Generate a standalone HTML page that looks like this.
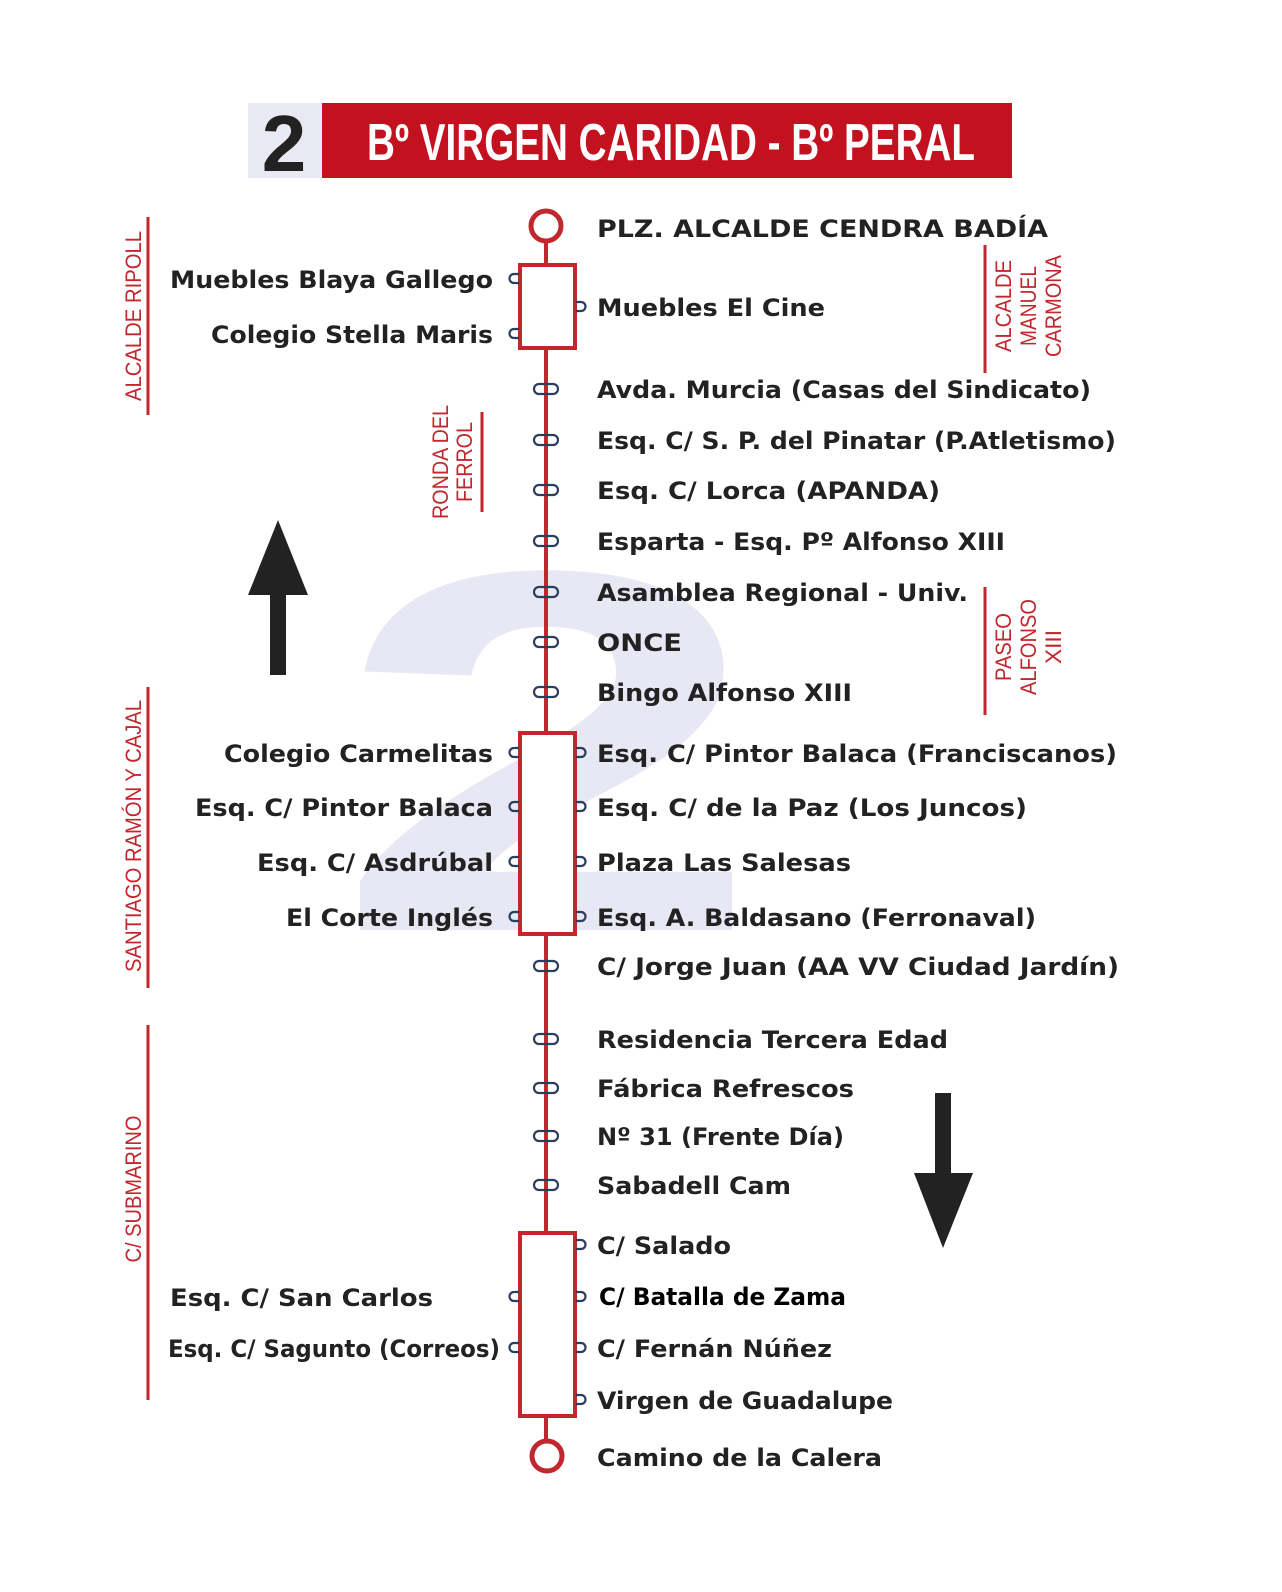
<!DOCTYPE html>
<html><head><meta charset="utf-8"><style>html,body{margin:0;padding:0;background:#fff;overflow:hidden}svg{display:block}</style></head>
<body>
<svg width="1282" height="1592" viewBox="0 0 1282 1592" xmlns="http://www.w3.org/2000/svg">
<text transform="translate(548,930) scale(1.5,1)" x="0" y="0" font-family="Liberation Sans, sans-serif" font-weight="bold" font-size="515" fill="#e7e8f3" text-anchor="middle">2</text>
<rect x="248" y="103" width="74" height="75" fill="#e8e9f2"/>
<text x="284" y="171" font-family="Liberation Sans, sans-serif" font-weight="bold" font-size="80" fill="#222" text-anchor="middle">2</text>
<rect x="322" y="103" width="690" height="75" fill="#c3111f"/>
<text x="367" y="160" font-family="Liberation Sans Narrow, Liberation Sans, sans-serif" font-weight="bold" font-size="52" fill="#fff" textLength="608" lengthAdjust="spacingAndGlyphs">Bº VIRGEN CARIDAD - Bº PERAL</text>
<g stroke="#c1272d" fill="none">
<line x1="546" y1="240" x2="546" y2="1442" stroke-width="4"/>
<rect x="520" y="265" width="55" height="83" fill="#fff" stroke-width="4"/>
<rect x="520" y="733" width="55" height="201" fill="#fff" stroke-width="4"/>
<rect x="520" y="1233" width="55" height="183" fill="#fff" stroke-width="4"/>
<circle cx="546" cy="226" r="15" stroke-width="5" fill="#fff"/>
<circle cx="547" cy="1456" r="15" stroke-width="5" fill="#fff"/>
<line x1="148" y1="217" x2="148" y2="415" stroke-width="3"/>
<line x1="482" y1="412" x2="482" y2="512" stroke-width="3"/>
<line x1="985" y1="245" x2="985" y2="373" stroke-width="3"/>
<line x1="985" y1="587" x2="985" y2="715" stroke-width="3"/>
<line x1="148" y1="687" x2="148" y2="988" stroke-width="3"/>
<line x1="148" y1="1025" x2="148" y2="1400" stroke-width="3"/>
</g>
<g stroke="#2c3e5e" stroke-width="2.2" fill="none">
<rect x="534" y="384" width="24" height="10" rx="5"/>
<rect x="534" y="435" width="24" height="10" rx="5"/>
<rect x="534" y="485" width="24" height="10" rx="5"/>
<rect x="534" y="536" width="24" height="10" rx="5"/>
<rect x="534" y="587" width="24" height="10" rx="5"/>
<rect x="534" y="637" width="24" height="10" rx="5"/>
<rect x="534" y="687" width="24" height="10" rx="5"/>
<rect x="534" y="961" width="24" height="10" rx="5"/>
<rect x="534" y="1034" width="24" height="10" rx="5"/>
<rect x="534" y="1083" width="24" height="10" rx="5"/>
<rect x="534" y="1131" width="24" height="10" rx="5"/>
<rect x="534" y="1180" width="24" height="10" rx="5"/>
<path d="M519 274 h-5 a4.5 4.5 0 0 0 0 9 h5"/>
<path d="M519 329 h-5 a4.5 4.5 0 0 0 0 9 h5"/>
<path d="M519 748 h-5 a4.5 4.5 0 0 0 0 9 h5"/>
<path d="M519 802 h-5 a4.5 4.5 0 0 0 0 9 h5"/>
<path d="M519 857 h-5 a4.5 4.5 0 0 0 0 9 h5"/>
<path d="M519 912 h-5 a4.5 4.5 0 0 0 0 9 h5"/>
<path d="M519 1292 h-5 a4.5 4.5 0 0 0 0 9 h5"/>
<path d="M519 1343 h-5 a4.5 4.5 0 0 0 0 9 h5"/>
<path d="M576 302 h5 a4.5 4.5 0 0 1 0 9 h-5"/>
<path d="M576 748 h5 a4.5 4.5 0 0 1 0 9 h-5"/>
<path d="M576 802 h5 a4.5 4.5 0 0 1 0 9 h-5"/>
<path d="M576 857 h5 a4.5 4.5 0 0 1 0 9 h-5"/>
<path d="M576 912 h5 a4.5 4.5 0 0 1 0 9 h-5"/>
<path d="M576 1240 h5 a4.5 4.5 0 0 1 0 9 h-5"/>
<path d="M576 1292 h5 a4.5 4.5 0 0 1 0 9 h-5"/>
<path d="M576 1343 h5 a4.5 4.5 0 0 1 0 9 h-5"/>
<path d="M576 1395 h5 a4.5 4.5 0 0 1 0 9 h-5"/>
</g>
<g font-family="DejaVu Sans, Liberation Sans, sans-serif" font-weight="bold" font-size="24" fill="#222">
<text lengthAdjust="spacingAndGlyphs" x="597" y="237" textLength="451">PLZ. ALCALDE CENDRA BADÍA</text>
<text lengthAdjust="spacingAndGlyphs" x="597" y="316" textLength="228">Muebles El Cine</text>
<text lengthAdjust="spacingAndGlyphs" x="597" y="398" textLength="494">Avda. Murcia (Casas del Sindicato)</text>
<text lengthAdjust="spacingAndGlyphs" x="597" y="449" textLength="519">Esq. C/ S. P. del Pinatar (P.Atletismo)</text>
<text lengthAdjust="spacingAndGlyphs" x="597" y="499" textLength="343">Esq. C/ Lorca (APANDA)</text>
<text lengthAdjust="spacingAndGlyphs" x="597" y="550" textLength="408">Esparta - Esq. Pº Alfonso XIII</text>
<text lengthAdjust="spacingAndGlyphs" x="597" y="601" textLength="371">Asamblea Regional - Univ.</text>
<text lengthAdjust="spacingAndGlyphs" x="597" y="651" textLength="85">ONCE</text>
<text lengthAdjust="spacingAndGlyphs" x="597" y="701" textLength="255">Bingo Alfonso XIII</text>
<text lengthAdjust="spacingAndGlyphs" x="597" y="762" textLength="520">Esq. C/ Pintor Balaca (Franciscanos)</text>
<text lengthAdjust="spacingAndGlyphs" x="597" y="816" textLength="430">Esq. C/ de la Paz (Los Juncos)</text>
<text lengthAdjust="spacingAndGlyphs" x="597" y="871" textLength="254">Plaza Las Salesas</text>
<text lengthAdjust="spacingAndGlyphs" x="597" y="926" textLength="439">Esq. A. Baldasano (Ferronaval)</text>
<text lengthAdjust="spacingAndGlyphs" x="597" y="975" textLength="522">C/ Jorge Juan (AA VV Ciudad Jardín)</text>
<text lengthAdjust="spacingAndGlyphs" x="597" y="1048" textLength="351">Residencia Tercera Edad</text>
<text lengthAdjust="spacingAndGlyphs" x="597" y="1097" textLength="257">Fábrica Refrescos</text>
<text lengthAdjust="spacingAndGlyphs" x="597" y="1145" textLength="247">Nº 31 (Frente Día)</text>
<text lengthAdjust="spacingAndGlyphs" x="597" y="1194" textLength="194">Sabadell Cam</text>
<text lengthAdjust="spacingAndGlyphs" x="597" y="1254" textLength="134">C/ Salado</text>
<text lengthAdjust="spacingAndGlyphs" x="599" y="1305" textLength="247" fill="#000">C/ Batalla de Zama</text>
<text lengthAdjust="spacingAndGlyphs" x="597" y="1357" textLength="235">C/ Fernán Núñez</text>
<text lengthAdjust="spacingAndGlyphs" x="597" y="1409" textLength="296">Virgen de Guadalupe</text>
<text lengthAdjust="spacingAndGlyphs" x="597" y="1466" textLength="285">Camino de la Calera</text>
<text lengthAdjust="spacingAndGlyphs" x="170" y="288" textLength="323">Muebles Blaya Gallego</text>
<text lengthAdjust="spacingAndGlyphs" x="211" y="343" textLength="282">Colegio Stella Maris</text>
<text lengthAdjust="spacingAndGlyphs" x="224" y="762" textLength="269">Colegio Carmelitas</text>
<text lengthAdjust="spacingAndGlyphs" x="195" y="816" textLength="298">Esq. C/ Pintor Balaca</text>
<text lengthAdjust="spacingAndGlyphs" x="257" y="871" textLength="236">Esq. C/ Asdrúbal</text>
<text lengthAdjust="spacingAndGlyphs" x="286" y="926" textLength="207">El Corte Inglés</text>
<text lengthAdjust="spacingAndGlyphs" x="170" y="1306" textLength="263">Esq. C/ San Carlos</text>
<text lengthAdjust="spacingAndGlyphs" x="168" y="1357" textLength="332">Esq. C/ Sagunto (Correos)</text>
</g>
<g font-family="Liberation Sans Narrow, Liberation Sans, sans-serif" font-size="22" fill="#c1272d" text-anchor="middle">
<text lengthAdjust="spacingAndGlyphs" transform="translate(141,316) rotate(-90)" textLength="170">ALCALDE RIPOLL</text>
<text lengthAdjust="spacingAndGlyphs" transform="translate(448,462) rotate(-90)" textLength="114">RONDA DEL</text>
<text lengthAdjust="spacingAndGlyphs" transform="translate(472,462) rotate(-90)" textLength="80">FERROL</text>
<text lengthAdjust="spacingAndGlyphs" transform="translate(1011,306) rotate(-90)" textLength="92">ALCALDE</text>
<text lengthAdjust="spacingAndGlyphs" transform="translate(1036,306) rotate(-90)" textLength="80">MANUEL</text>
<text lengthAdjust="spacingAndGlyphs" transform="translate(1061,306) rotate(-90)" textLength="102">CARMONA</text>
<text lengthAdjust="spacingAndGlyphs" transform="translate(1011,647) rotate(-90)" textLength="68">PASEO</text>
<text lengthAdjust="spacingAndGlyphs" transform="translate(1036,647) rotate(-90)" textLength="96">ALFONSO</text>
<text lengthAdjust="spacingAndGlyphs" transform="translate(1061,647) rotate(-90)" textLength="34">XIII</text>
<text lengthAdjust="spacingAndGlyphs" transform="translate(141,836) rotate(-90)" textLength="272">SANTIAGO RAMÓN Y CAJAL</text>
<text lengthAdjust="spacingAndGlyphs" transform="translate(141,1189) rotate(-90)" textLength="147">C/ SUBMARINO</text>
</g>
<g fill="#222">
<polygon points="278,520 308,595 286,595 286,675 270,675 270,595 248,595"/>
<polygon points="943,1248 973,1173 951,1173 951,1093 935,1093 935,1173 914,1173"/>
</g>
</svg>
</body></html>
